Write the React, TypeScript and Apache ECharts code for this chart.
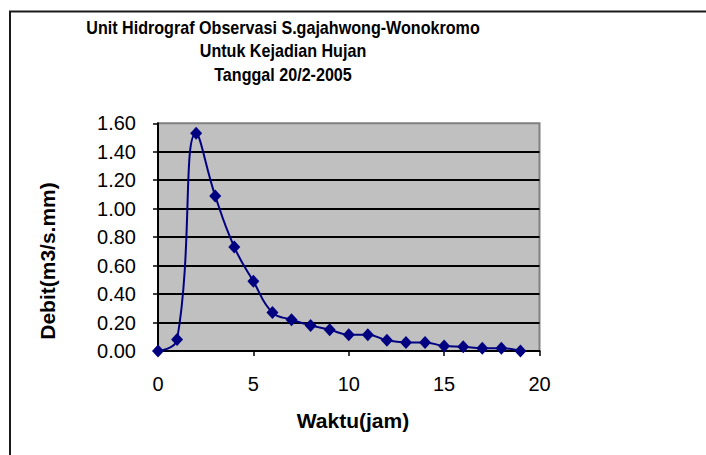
import React, { useEffect, useRef } from "react";
import * as echarts from "echarts";

const hours = [0, 1, 2, 3, 4, 5, 6, 7, 8, 9, 10, 11, 12, 13, 14, 15, 16, 17, 18, 19];
const debit = [0, 0.08, 1.53, 1.09, 0.73, 0.49, 0.27, 0.22, 0.18, 0.15, 0.115, 0.115, 0.075, 0.06, 0.06, 0.035, 0.03, 0.02, 0.02, 0.0];
const titleLines = [
  "Unit Hidrograf Observasi S.gajahwong-Wonokromo",
  "Untuk Kejadian Hujan",
  "Tanggal 20/2-2005",
];
const xName = "Waktu(jam)";
const yName = "Debit(m3/s.mm)";

const FONT = "Liberation Sans, Arial, sans-serif";

export default function App() {
  const ref = useRef<HTMLDivElement>(null);
  useEffect(() => {
    if (!ref.current) return;
    const chart = echarts.init(ref.current, null, { renderer: "svg" });
    const titleY = [28.5, 51.5, 75];
    chart.setOption({
      animation: false,
      backgroundColor: "#ffffff",
      grid: {
        left: 158,
        right: 166.5,
        top: 123.3,
        bottom: 104,
        show: true,
        backgroundColor: "#C0C0C0",
        borderColor: "#808080",
        borderWidth: 2,
      },
      xAxis: {
        type: "value",
        min: 0,
        max: 20,
        interval: 5,
        axisLine: { show: true, onZero: false, lineStyle: { color: "#000", width: 2 } },
        axisTick: { show: true, inside: false, length: 5, lineStyle: { color: "#000", width: 1.5 } },
        axisLabel: { fontFamily: FONT, fontSize: 20, color: "#000", margin: 23 },
        splitLine: { show: false },
      },
      yAxis: {
        type: "value",
        min: 0,
        max: 1.6,
        interval: 0.2,
        axisLine: { show: true, lineStyle: { color: "#000", width: 2 } },
        axisTick: { show: true, inside: false, length: 5, lineStyle: { color: "#000", width: 1.5 } },
        axisLabel: {
          fontFamily: FONT,
          fontSize: 20,
          color: "#000",
          margin: 22,
          formatter: (v: number) => v.toFixed(2),
        },
        splitLine: { show: true, showMaxLine: false, lineStyle: { color: "#000", width: 2 } },
      },
      series: [
        {
          type: "line",
          data: hours.map((h, i) => [h, debit[i]]),
          smooth: 0.45,
          symbol: "diamond",
          symbolSize: [12, 13],
          lineStyle: { color: "#000080", width: 2 },
          itemStyle: { color: "#000080" },
          clip: false,
        },
      ],
      graphic: [
        {
          type: "rect",
          shape: { x: 10, y: 11.5, width: 720, height: 500 },
          style: { fill: "none", stroke: "#1a1a1a", lineWidth: 2 },
          silent: true,
        },
        ...titleLines.map((t, i) => ({
          type: "text",
          x: 283,
          y: titleY[i],
          scaleX: 0.895,
          style: {
            text: t,
            fontFamily: FONT,
            fontSize: 18,
            fontWeight: "bold",
            fill: "#000",
            textAlign: "center",
            textVerticalAlign: "middle",
          },
        })),
        {
          type: "text",
          x: 353,
          y: 420,
          style: {
            text: xName,
            fontFamily: FONT,
            fontSize: 21,
            fontWeight: "bold",
            fill: "#000",
            textAlign: "center",
            textVerticalAlign: "middle",
          },
        },
        {
          type: "text",
          x: 47,
          y: 261,
          rotation: Math.PI / 2,
          style: {
            text: yName,
            fontFamily: FONT,
            fontSize: 21,
            fontWeight: "bold",
            fill: "#000",
            textAlign: "center",
            textVerticalAlign: "middle",
          },
        },
      ],
    });
    return () => chart.dispose();
  }, []);
  return (
    <div
      ref={ref}
      style={{ position: "fixed", left: 0, top: 0, width: 706, height: 455 }}
    />
  );
}
